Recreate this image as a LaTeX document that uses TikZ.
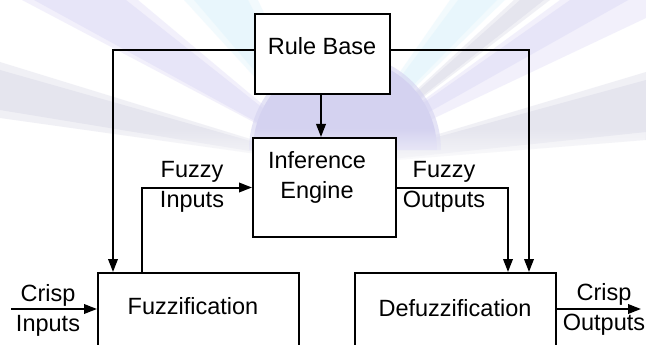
\documentclass[tikz,border=0pt]{standalone}
\usepackage{fontspec}
\setmainfont{Liberation Sans}
\usetikzlibrary{arrows.meta,fadings}

\definecolor{raygrey}{RGB}{190,190,214}
\definecolor{raylav}{RGB}{196,190,240}
\definecolor{raycyan}{RGB}{200,236,250}
\definecolor{domec}{RGB}{212,210,240}

\tikzfading[name=fadeout, top color=transparent!100, bottom color=transparent!0]

\tikzset{
  box/.style={draw=black, fill=white, line width=2pt, inner sep=0pt, anchor=north west},
  lbl/.style={font=\fontsize{23.5}{30}\selectfont, align=center, inner sep=0pt},
  arr/.style={line width=2pt, -{Triangle[length=13pt,width=9.5pt]}},
  ray/.style={opacity=0.22},
}

% a soft ray: a wide faint wedge under a narrower one
\newcommand{\softray}[4]{%
  \fill[#1, ray] (o) -- #2 -- #3 -- cycle;
  \fill[#1, ray] (o) -- #4 -- cycle;
}

\begin{document}
\begin{tikzpicture}[x=1pt,y=-1pt]
\useasboundingbox (0,0) rectangle (646,345);
\clip (0,0) rectangle (646,345);
\fill[white] (0,0) rectangle (646,345);

% faint sunburst backdrop
\coordinate (o) at (335,165);
\softray{raygrey}{(0,62)}{(0,118)}{(0,70) -- (0,110)}
\softray{raylav}{(22,0)}{(138,0)}{(34,0) -- (126,0)}
\softray{raycyan}{(184,0)}{(258,0)}{(194,0) -- (248,0)}
\softray{raycyan}{(450,0)}{(505,0)}{(458,0) -- (497,0)}
\softray{raygrey}{(514,0)}{(550,0)}{(520,0) -- (544,0)}
\softray{raylav}{(560,0)}{(646,-10)}{(570,0) -- (646,0) -- (646,18)}
\softray{raygrey}{(646,72)}{(646,140)}{(646,80) -- (646,132)}
% the dome rises upwards (y grows downwards here)
\fill[domec, opacity=0.6] (249,150) arc[start angle=180, end angle=360, radius=96];
\fill[domec] (253,150) arc[start angle=180, end angle=360, radius=92];
\fill[white, path fading=fadeout] (0,128) rectangle (646,176);
\fill[white] (0,175) rectangle (646,345);

% blocks
\node[box, minimum width=135pt, minimum height=80pt] (rb) at (254,13) {};
\node[lbl] (rbt) at (322,46) {Rule Base};
\node[box, minimum width=143pt, minimum height=99pt] (inf) at (252,137) {};
\node[lbl] (inft) at (317,177) {Inference\\Engine};
\node[box, minimum width=201pt, minimum height=100pt] (fuzz) at (97,272) {};
\node[lbl] (fuzzt) at (193,306) {Fuzzification};
\node[box, minimum width=201pt, minimum height=100pt] (defuzz) at (354,272) {};
\node[lbl] (defuzzt) at (455,308) {Defuzzification};

% signal labels
\node[lbl] (fin) at (192,187) {Fuzzy\\Inputs};
\node[lbl] (fout) at (444,187) {Fuzzy\\Outputs};
\node[lbl] (cin) at (48,310) {Crisp\\Inputs};
\node[lbl] (cout) at (604,309.5) {Crisp\\Outputs};

% free ends of the crisp signals
\coordinate (cinL) at (11,309);
\coordinate (coutR) at (641,309);

% connectors
\draw[arr] ([yshift=4pt]rb.west) -| ([xshift=16pt]fuzz.north west);
\draw[arr] ([yshift=4pt]rb.east) -| ([xshift=-28pt]defuzz.north east);
\draw[arr] ([xshift=-1.5pt]rb.south) -- ([xshift=-1.5pt]rb.south |- inf.north);
\draw[arr] ([xshift=45pt]fuzz.north west) |- (inf.west);
\draw[arr] (inf.east) -| ([xshift=-49pt]defuzz.north east);
\draw[arr] (cinL) -- (cinL -| fuzz.west);
\draw[arr] (coutR -| defuzz.east) -- (coutR);
\end{tikzpicture}
\end{document}
